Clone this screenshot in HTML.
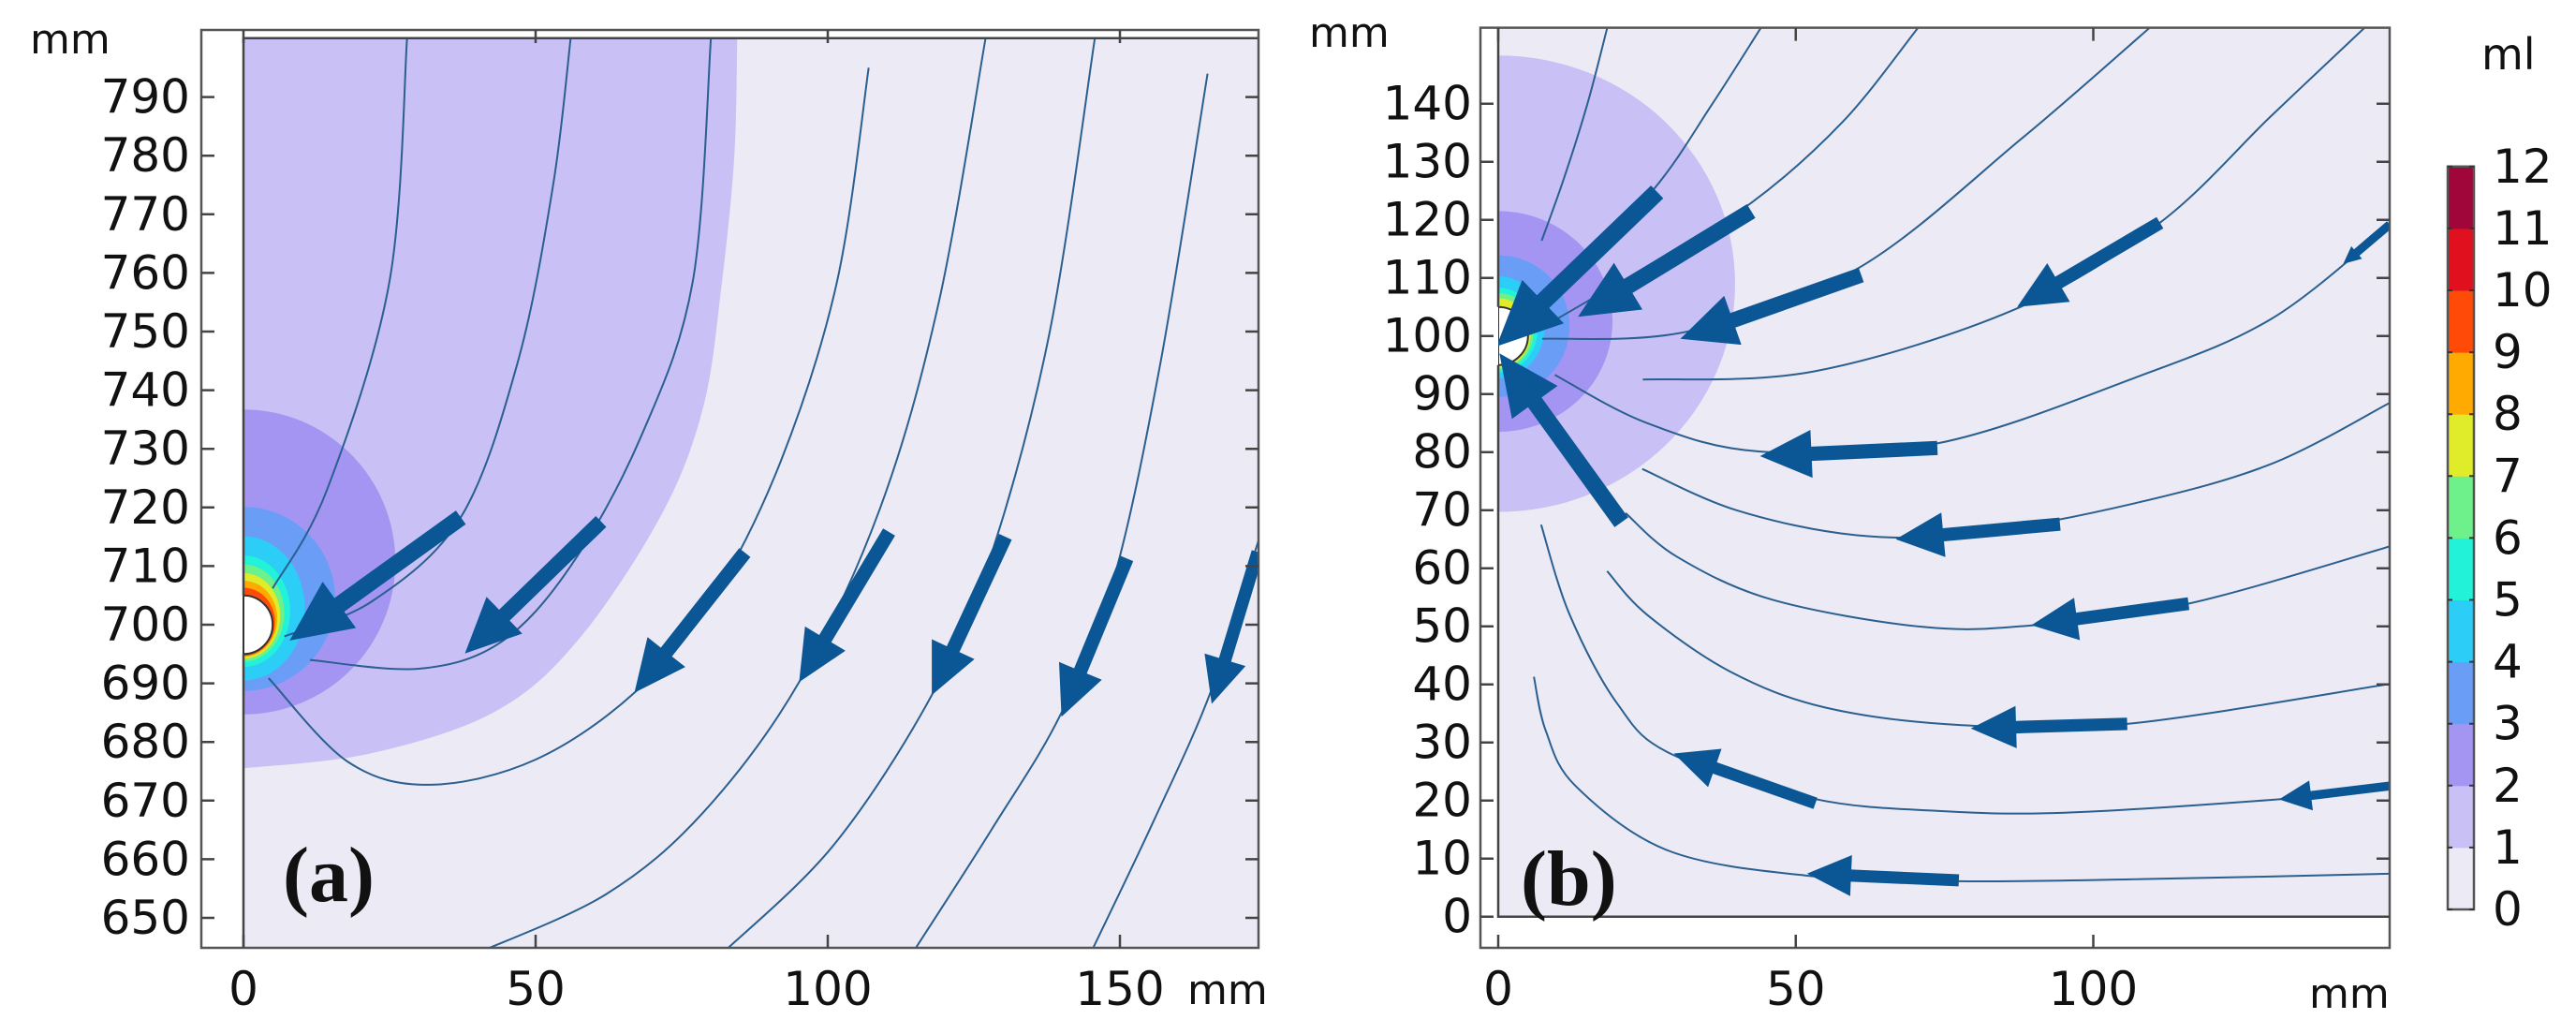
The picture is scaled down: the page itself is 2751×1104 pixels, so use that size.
<!DOCTYPE html>
<html><head><meta charset="utf-8"><style>
html,body{margin:0;padding:0;background:#fff;}
svg{display:block;}
text{font-family:"DejaVu Sans","Liberation Sans",sans-serif;fill:#111;}
</style></head><body>
<svg id="fig" width="2751" height="1104" viewBox="0 0 2751 1104" xmlns="http://www.w3.org/2000/svg">
<defs>
<clipPath id="clipA"><rect x="260" y="40.7" width="1084" height="971.3"/></clipPath>
<clipPath id="clipB"><rect x="1600" y="29.6" width="952" height="949.1"/></clipPath>
</defs>
<g id="panelA"></g>
<g id="panelB"></g>
<g id="cbar"></g>
</svg>
<script>
// ---------- data ----------
const levelColors = ["#eceaf4","#c9c0f5","#a595f3","#6a9ef6","#2ccdf6","#22f2d8","#6ef08a","#e0ec2a","#ffaa00","#ff4a08","#e0101e","#a0063a"];
const cbarTicks = [0,1,2,3,4,5,6,7,8,9,10,11,12];
const aYTicks = [650,660,670,680,690,700,710,720,730,740,750,760,770,780,790];
const aXTicks = [0,50,100,150];
const bYTicks = [0,10,20,30,40,50,60,70,80,90,100,110,120,130,140];
const bXTicks = [0,50,100];
const aLevel1 = [[0,675.5],[21.5,678],[42.9,685.1],[57.2,697.3],[71.5,718.7],[78.7,737.2],[81.9,758.6],[84,780],[84.5,800]];
const aRings = [[2,710.7,26,26],[3,704.4,15.7,15.7],[4,702.8,10.5,12.3],[5,702.3,8,9.5],[6,702,7,8.3],[7,701.5,6.3,7.3],[8,701,5.8,6.5],[9,700.5,5.4,5.8]];
const bRings = [[1,109,39.8,39.3],[2,102.5,19.2,19],[3,101.7,12,12.2],[4,101.5,7.8,8.8],[5,101,6.6,7.3],[6,100.8,6,6.6],[7,100.5,5.5,6]];
const aStreams = [
 [[28,800],[25,758.6],[14.3,723],[5,706.2]],
 [[56,800],[53,775],[47,745],[37.2,718.3],[22,704],[7,698]],
 [[80,800],[76.9,758.6],[68,732],[56,710],[44,697],[30,692.5],[11.4,694]],
 [[107,795],[101.6,758.6],[92,728],[80,704],[66.9,688.4],[50,677],[32,672.7],[17.9,676.6],[4.3,690.9]],
 [[127,800],[119,755],[109,720],[95.1,690.2],[78.7,668],[62,654],[40,644]],
 [[145.7,800],[138,750],[128,712],[117.8,688],[101,662.4],[82,644]],
 [[165,794],[157,745],[149,708],[140,685],[128,665],[114.5,644]],
 [[176,720],[173.6,714],[165.7,689],[156,667],[145,644]]
];
const aArrows = [[37.2,718.3,7.9,697.3],[61.2,717.6,37.9,695.1],[85.8,712.3,66.9,688.4],[110.5,715.8,95.1,690.2],[130.4,715,117.8,688],[151.2,711.3,140,684.3],[173.6,712.4,165.7,686.5]];
const bStreams = [
 [[18.3,153],[15,140],[11,127],[7.3,116.4]],
 [[44.1,153],[36,140],[26.4,125.6],[12,110],[2,101]],
 [[70.5,153],[58,137],[42.5,122.9],[25,112],[10,103]],
 [[109.5,153.1],[88.2,134.2],[60.4,111.6],[32,100.8],[7.4,99.5]],
 [[145.5,153],[130,138],[111.2,119.5],[87.1,104.7],[53.1,93.9],[24.3,92.5]],
 [[150,119.2],[130,103],[107,92.8],[73.8,81.5],[44,80.1],[25,85],[9.5,93.3]],
 [[150,88.6],[130,78],[107,71.2],[80,66],[60.1,65.7],[40,70],[24.2,77.1]],
 [[150,63.8],[116,53.9],[90,50.2],[71.3,49.9],[46,54.6],[30,62],[21.4,69.5]],
 [[150,40.1],[105.7,33.2],[77.6,33],[55,36],[39,42.2],[25,52],[18.3,59.5]],
 [[150,22.1],[131,20.2],[95.2,17.9],[74.1,18.2],[53,20.3],[29.1,28],[20,36.7],[12,52],[7.2,67.5]],
 [[150,7.4],[110,6.5],[77.6,6.1],[51.6,7.1],[28.5,11.4],[13,22.5],[8,32],[6,41.3]]
];
const bArrows = [[26.7,124.8,-0.3,98.2],[42.5,121.5,13.4,103.3],[61,110.5,30.6,99.5],[111.2,119.5,87.2,105],[20.7,67.9,0.2,97],[73.8,80.7,44,79.3],[94.4,67.6,66.8,65],[116,53.9,89.6,50.2],[105.7,33.2,79.4,32.4],[53.3,19.5,29.5,28.1],[149.8,22.5,131.2,20.2],[77.4,6.25,51.9,7.4],[149.8,119.2,142,112.4]];

// ---------- scales ----------
const xa = x => 260 + 6.24*x, ya = y => 667 - 6.26*(y-700);
const xb = x => 1600 + 6.355*x, yb = y => 978.7 - 6.2*y;
const ycb = v => 971 - v*66.1;
const NS = "http://www.w3.org/2000/svg";
function mk(parent, tag, attrs){const e=document.createElementNS(NS,tag);for(const k in attrs)e.setAttribute(k,attrs[k]);parent.appendChild(e);return e;}
function smooth(pts, fx, fy){
  const P = pts.map(p=>[fx(p[0]),fy(p[1])]);
  let d = "M"+P[0][0].toFixed(1)+","+P[0][1].toFixed(1);
  for(let i=0;i<P.length-1;i++){
    const p0=P[Math.max(0,i-1)],p1=P[i],p2=P[i+1],p3=P[Math.min(P.length-1,i+2)];
    const c1=[p1[0]+(p2[0]-p0[0])/6,p1[1]+(p2[1]-p0[1])/6];
    const c2=[p2[0]-(p3[0]-p1[0])/6,p2[1]-(p3[1]-p1[1])/6];
    d+=" C"+c1[0].toFixed(1)+","+c1[1].toFixed(1)+" "+c2[0].toFixed(1)+","+c2[1].toFixed(1)+" "+p2[0].toFixed(1)+","+p2[1].toFixed(1);
  }
  return d;
}
function arrowPts(a, fx, fy){
  const tx=fx(a[0]),ty=fy(a[1]),px=fx(a[2]),py=fy(a[3]);
  const dx=px-tx,dy=py-ty,L=Math.hypot(dx,dy),ux=dx/L,uy=dy/L,nx=-uy,ny=ux;
  const w=Math.max(9,0.08*L)/2,h=0.29*L,hw=0.135*L,bx=px-ux*h,by=py-uy*h;
  const p=[[tx+nx*w,ty+ny*w],[bx+nx*w,by+ny*w],[bx+nx*hw,by+ny*hw],[px,py],[bx-nx*hw,by-ny*hw],[bx-nx*w,by-ny*w],[tx-nx*w,ty-ny*w]];
  return p.map(q=>q[0].toFixed(1)+","+q[1].toFixed(1)).join(" ");
}
function ellipse(g, cx, cy, rx, ry, fill){
  return mk(g,"ellipse",{cx:cx,cy:cy,rx:rx,ry:ry,fill:fill});
}

// ---------- panel A ----------
const A = document.getElementById("panelA");
let r = mk(A,"rect",{x:215,y:32,width:1129,height:980,fill:"#fff"});


const Ad = mk(A,"g",{"clip-path":"url(#clipA)"});


r = mk(Ad,"rect",{x:260,y:40.7,width:1084,height:971.3,fill:levelColors[0]});


{
  const d = smooth(aLevel1,xa,ya) + " L"+xa(84.5)+","+ya(810)+" L"+xa(0)+","+ya(810)+" Z";
  const p = mk(Ad,"path",{d:d,fill:levelColors[1]});
  
  
}
aRings.forEach(rg=>{
  const e = ellipse(Ad, xa(0), ya(rg[1]), rg[2]*6.24, rg[3]*6.26, levelColors[rg[0]]);
  
  
});
aStreams.forEach((s,i)=>{
  const p = mk(Ad,"path",{d:smooth(s,xa,ya),fill:"none",stroke:"#2a5f8f","stroke-width":2});
  
  
});
aArrows.forEach((a,i)=>{
  const p = mk(Ad,"polygon",{points:arrowPts(a,xa,ya),fill:"#0b5796"});
  
  
});
{
  const h = mk(A,"path",{d:`M${xa(0)},${ya(705)} A31.2,31.3 0 0 1 ${xa(0)},${ya(695)} Z`,fill:"#fff",stroke:"#333","stroke-width":2});
  
  
  const l = mk(A,"path",{d:`M260,40.7 L260,${ya(705)} M260,${ya(695)} L260,1012 M260,40.7 L1344,40.7`,stroke:"#444","stroke-width":2.5,fill:"none"});
  
  
  const f = mk(A,"rect",{x:215,y:32,width:1129,height:980,fill:"none",stroke:"#555","stroke-width":2.5});
  
  
}
aYTicks.forEach(v=>{
  const y=ya(v);
  const t = mk(A,"path",{d:`M215,${y} L229,${y} M1344,${y} L1330,${y}`,stroke:"#444","stroke-width":2.5});
  
  
  const tx = mk(A,"text",{x:203,y:y,"text-anchor":"end","dominant-baseline":"central","font-size":50});
  tx.textContent = v;
  
  
});
aXTicks.forEach(v=>{
  const x=xa(v);
  const t = mk(A,"path",{d:`M${x},1012 L${x},998 M${x},32 L${x},46`,stroke:"#444","stroke-width":2.5});
  
  
  const tx = mk(A,"text",{x:x,y:1056,"text-anchor":"middle","dominant-baseline":"central","font-size":50});
  tx.textContent = v;
  
  
});
{
  let t = mk(A,"text",{x:32,y:57,"font-size":44}); t.textContent="mm";
   
  t = mk(A,"text",{x:1268,y:1072,"font-size":44}); t.textContent="mm";
   
  t = mk(A,"text",{x:302,y:962,"font-size":84,"font-weight":"bold",style:"font-family:'Liberation Serif',serif"}); t.textContent="(a)";
   
}

// ---------- panel B ----------
const B = document.getElementById("panelB");
r = mk(B,"rect",{x:1581,y:29.6,width:971,height:982.4,fill:"#fff"});


const Bd = mk(B,"g",{"clip-path":"url(#clipB)"});


r = mk(Bd,"rect",{x:1600,y:29.6,width:952,height:949.1,fill:levelColors[0]});


bRings.forEach(rg=>{
  const e = ellipse(Bd, xb(0), yb(rg[1]), rg[2]*6.355, rg[3]*6.2, levelColors[rg[0]]);
  
  
});
bStreams.forEach((s,i)=>{
  const p = mk(Bd,"path",{d:smooth(s,xb,yb),fill:"none",stroke:"#2a5f8f","stroke-width":2});
  
  
});
{
  const h = mk(Bd,"path",{d:`M${xb(0)},${yb(105)} A31.8,31 0 0 1 ${xb(0)},${yb(95)} Z`,fill:"#fff",stroke:"#333","stroke-width":2});
  
  
}
bArrows.forEach((a,i)=>{
  const p = mk(Bd,"polygon",{points:arrowPts(a,xb,yb),fill:"#0b5796"});
  
  
});
{
  const l = mk(B,"path",{d:`M1600,29.6 L1600,${yb(105)} M1600,${yb(95)} L1600,978.7 L2552,978.7`,stroke:"#444","stroke-width":2.5,fill:"none"});
  
  
  const f = mk(B,"rect",{x:1581,y:29.6,width:971,height:982.4,fill:"none",stroke:"#555","stroke-width":2.5});
  
  
}
bYTicks.forEach(v=>{
  const y=yb(v);
  const t = mk(B,"path",{d:`M1581,${y} L1595,${y} M2552,${y} L2538,${y}`,stroke:"#444","stroke-width":2.5});
  
  
  const tx = mk(B,"text",{x:1572,y:y,"text-anchor":"end","dominant-baseline":"central","font-size":50});
  tx.textContent = v;
  
  
});
bXTicks.forEach(v=>{
  const x=xb(v);
  const t = mk(B,"path",{d:`M${x},1012 L${x},998 M${x},29.6 L${x},43.6`,stroke:"#444","stroke-width":2.5});
  
  
  const tx = mk(B,"text",{x:x,y:1056,"text-anchor":"middle","dominant-baseline":"central","font-size":50});
  tx.textContent = v;
  
  
});
{
  let t = mk(B,"text",{x:1398,y:50,"font-size":44}); t.textContent="mm";
   
  t = mk(B,"text",{x:2466,y:1076,"font-size":44}); t.textContent="mm";
   
  t = mk(B,"text",{x:1624,y:966,"font-size":84,"font-weight":"bold",style:"font-family:'Liberation Serif',serif"}); t.textContent="(b)";
   
}

// ---------- colorbar ----------
const C = document.getElementById("cbar");
levelColors.forEach((c,i)=>{
  const rr = mk(C,"rect",{x:2614,y:ycb(i+1),width:28,height:ycb(i)-ycb(i+1)+0.5,fill:c});
  
  
});
{
  const f = mk(C,"rect",{x:2614,y:ycb(12),width:28,height:ycb(0)-ycb(12),fill:"none",stroke:"#555","stroke-width":2.5});
   
}
cbarTicks.forEach(v=>{
  const y=ycb(v);
  const t = mk(C,"path",{d:`M2614,${y} L2619,${y} M2642,${y} L2637,${y}`,stroke:"#333","stroke-width":2});
   
  const tx = mk(C,"text",{x:2662,y:y,"dominant-baseline":"central","font-size":50});
  tx.textContent = v;
   
});
{
  const t = mk(C,"text",{x:2650,y:74,"font-size":46}); t.textContent="ml";
   
}
</script>
</body></html>
